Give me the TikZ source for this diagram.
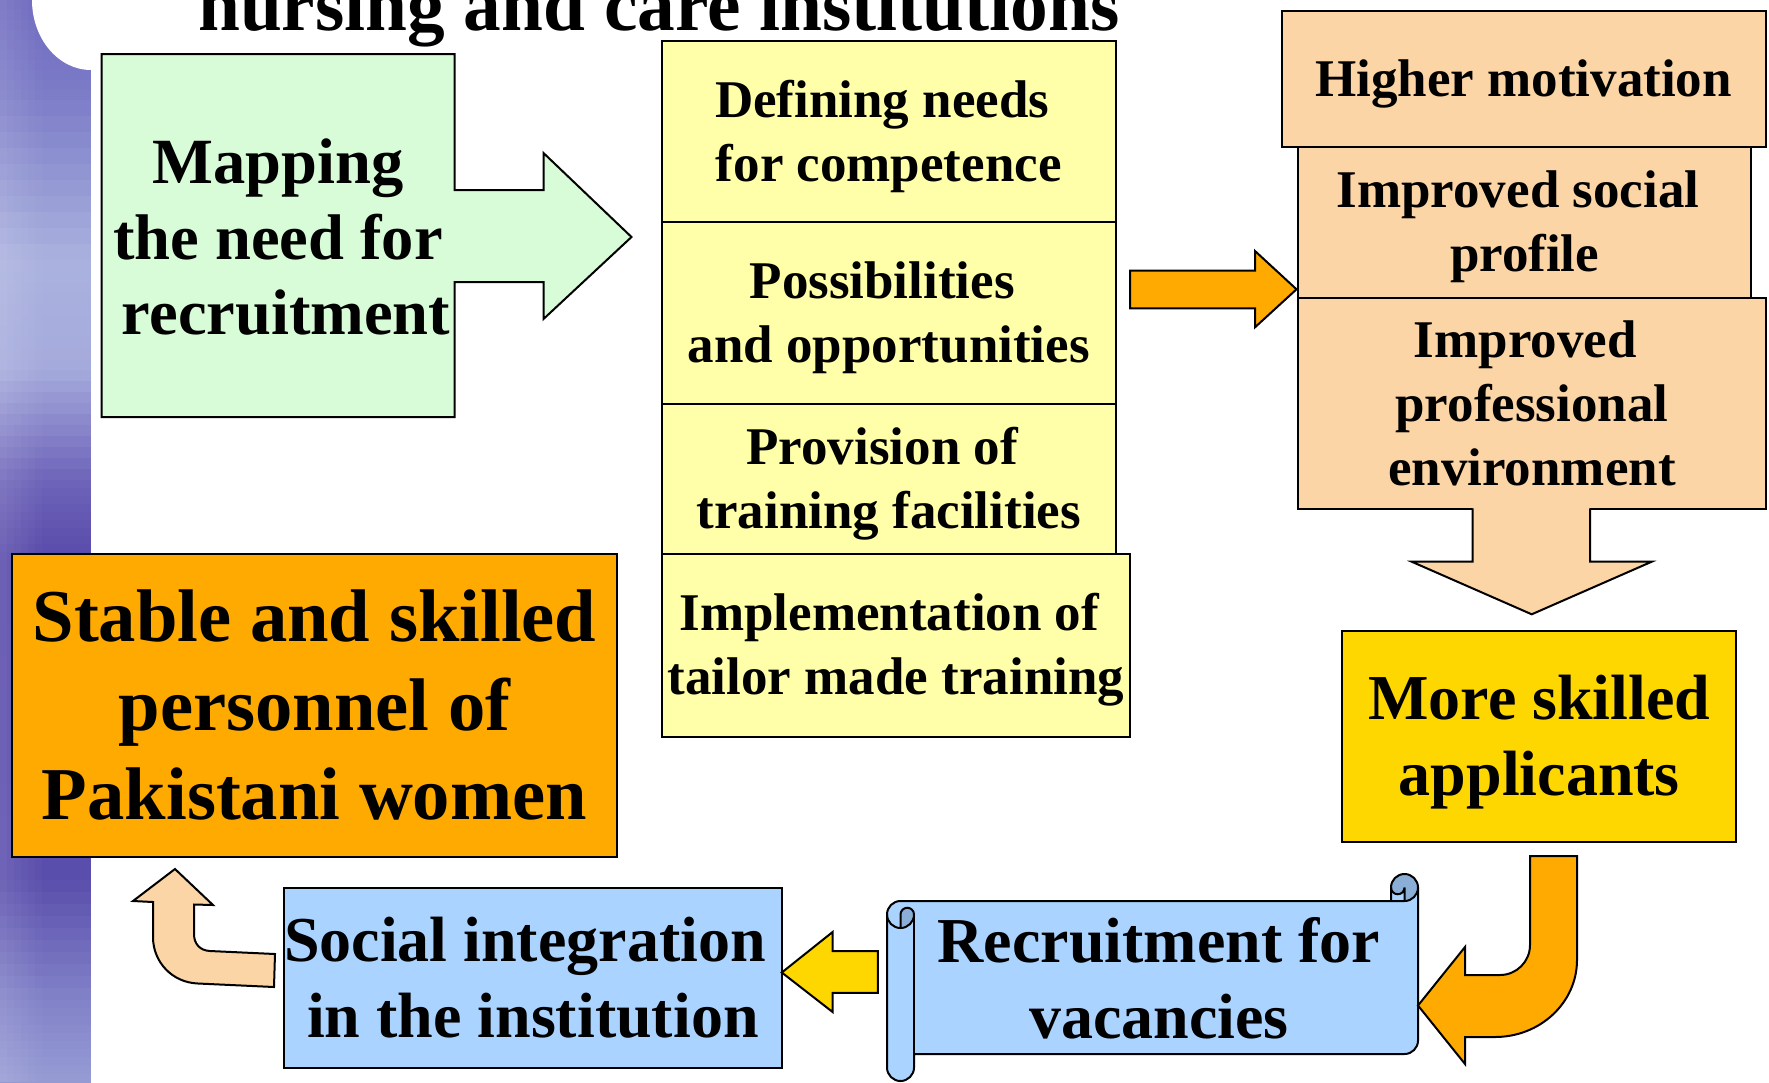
\documentclass[tikz,border=0pt]{standalone}
\usepackage{fontspec}
\setmainfont{Liberation Serif}
\definecolor{mint}{RGB}{216,252,216}
\definecolor{paleyel}{RGB}{255,255,170}
\definecolor{peach}{RGB}{251,213,165}
\definecolor{orng}{RGB}{255,170,0}
\definecolor{gold}{RGB}{255,215,0}
\definecolor{skyb}{RGB}{170,212,255}
\definecolor{skybd}{RGB}{139,174,214}
\definecolor{bA}{RGB}{110,105,190}
\definecolor{bB}{RGB}{125,125,200}
\definecolor{bC}{RGB}{170,178,222}
\definecolor{bD}{RGB}{165,170,220}
\definecolor{bE}{RGB}{110,100,185}
\definecolor{bF}{RGB}{88,74,170}
\definecolor{bG}{RGB}{90,78,172}
\definecolor{bH}{RGB}{130,130,200}
\definecolor{bI}{RGB}{150,155,212}
\newcommand\Tst{\rule{0pt}{0.891em}}
\newcommand\Bst{\rule[-0.216em]{0pt}{0.216em}}
\newcommand\Tsp{\hspace*{0.25em}}
\tikzset{
  box/.style={draw=black, line width=2pt, inner sep=0pt, anchor=north west, align=center},
  fsA/.style={font=\fontsize{53}{64}\selectfont\bfseries},
  fsB/.style={font=\fontsize{64}{76}\selectfont\bfseries},
  fsC/.style={font=\fontsize{74.6}{89}\selectfont\bfseries},
  outl/.style={draw=black, line width=2pt, line join=miter},
}
\begin{document}
\begin{tikzpicture}[x=1pt,y=-1pt]
\useasboundingbox (0,0) rectangle (1769,1082);
\fill[white] (0,0) rectangle (1769,1082);
% decorative side bar
\foreach \ya/\yb/\ca/\cb in {0/100/bA/bB,100/260/bB/bC,260/370/bC/bD,370/480/bD/bE,480/560/bE/bF,560/880/bF/bG,880/1000/bG/bH,1000/1082/bH/bI}{
  \foreach \i in {0,...,9}{
    \pgfmathsetmacro\yy{\ya+(\yb-\ya)*\i/10}
    \pgfmathsetmacro\yz{\ya+(\yb-\ya)*(\i+1)/10+0.6}
    \pgfmathtruncatemacro\pp{95-10*\i}
    \fill[\ca!\pp!\cb] (0,\yy) rectangle (90.7,\yz);
  }
}
\foreach \k in {0,...,5}{
  \pgfmathsetmacro\xa{\k*7}
  \pgfmathsetmacro\op{0.12-0.02*\k}
  \fill[white, fill opacity=\op] (\xa,0) rectangle ({\xa+7},1082);
}
\fill[white] (91,0) -- (32,0) arc[start angle=180, end angle=90, x radius=59, y radius=70] -- (91,70) -- cycle;

% title (cut off at top)
\node[anchor=base west, inner sep=0pt, font=\fontsize{75.3}{89}\selectfont\bfseries] (title) at (198,30) {nursing and care institutions};

% green block arrow
\path[fill=mint, outl] (101.5,54) -- (454.5,54) -- (454.5,190) -- (543.5,190) -- (543.5,153) -- (631.5,237) -- (543.5,319) -- (543.5,282) -- (454.5,282) -- (454.5,417) -- (101.5,417) -- cycle;
\node[font=\fontsize{64.5}{75.5}\selectfont\bfseries, align=center, inner sep=0pt] (map) at (278,237.5) {\Tst Mapping\\the need for\\\Tsp recruitment\Bst};

% yellow column
\node[box, fill=paleyel, fsA, minimum width=453.6, minimum height=181.5] (def) at (661,39.5) {\Tst Defining needs\Tsp\\for competence\Bst};
\node[box, fill=paleyel, fsA, minimum width=453.6, minimum height=181.8] (pos) at (661,221) {\Tst Possibilities\Tsp\\and opportunities\Bst};
\node[box, fill=paleyel, fsA, minimum width=453.6, minimum height=150] (prov) at (661,402.8) {\Tst Provision of\Tsp\\training facilities\Bst};
\node[box, fill=paleyel, fsA, minimum width=468, minimum height=182.8] (impl) at (661,552.8) {\Tst Implementation of\Tsp\\tailor made training\Bst};

% peach column
\node[box, fill=peach, fsA, minimum width=484, minimum height=135.5] (hm) at (1280.5,10) {\Tst Higher motivation\Bst};
\node[box, fill=peach, fsA, minimum width=452.4, minimum height=151.2] (isp) at (1297.4,145.5) {\Tst Improved social\Tsp\\profile\Bst};
\node[box, fill=peach, fsA, minimum width=467.1, minimum height=211.6] (ipe) at (1297.4,296.7) {\Tst Improved\Tsp\\professional\\environment\Bst};
\fill[peach] (1472.7,506) -- (1472.7,561.7) -- (1411.7,561.7) -- (1531.7,614.3) -- (1651.7,561.7) -- (1590,561.7) -- (1590,506) -- cycle;
\draw[outl] (1472.7,508.3) -- (1472.7,561.7) -- (1411.7,561.7) -- (1531.7,614.3) -- (1651.7,561.7) -- (1590,561.7) -- (1590,508.3);

% gold box
\node[box, fill=gold, fsB, minimum width=393.8, minimum height=211] (msa) at (1341.4,629.5) {\Tst More skilled\\applicants\Bst};

% orange result box
\node[box, fill=orng, fsC, minimum width=605, minimum height=302.7] (stable) at (11,553.3) {\Tst Stable and skilled\\personnel of\\Pakistani women\Bst};

% blue box
\node[box, fill=skyb, fsB, minimum width=497.7, minimum height=180.5] (soc) at (283,886.8) {\Tst Social integration\Tsp\\in the institution\Bst};

% scroll
\begin{scope}[shift={(887,874)}]
 \fill[skyb] (0,40.5) arc[start angle=180, delta angle=90, radius=13.5] -- (504,27) -- (504,13.5) arc[start angle=180, delta angle=180, radius=13.5] -- (531,166.5) arc[start angle=0, delta angle=90, radius=13.5] -- (27,180) -- (27,193.5) arc[start angle=0, delta angle=180, radius=13.5] -- cycle;
 \fill[skybd] (13.5,54) arc[start angle=90, delta angle=-90, radius=13.5] arc[start angle=0, delta angle=-180, radius=6.75] -- cycle;
 \fill[skybd] (517.5,27) arc[start angle=90, delta angle=-270, radius=13.5] arc[start angle=180, delta angle=-180, radius=6.75] -- cycle;
 \draw[outl, line join=round] (0,40.5) arc[start angle=180, delta angle=90, radius=13.5] -- (504,27) -- (504,13.5) arc[start angle=180, delta angle=180, radius=13.5] -- (531,166.5) arc[start angle=0, delta angle=90, radius=13.5] -- (27,180) -- (27,193.5) arc[start angle=0, delta angle=180, radius=13.5] -- cycle;
 \draw[outl] (504,27) -- (517.5,27) arc[start angle=90, delta angle=-90, radius=13.5];
 \draw[outl] (517.5,27) -- (517.5,13.5) arc[start angle=0, delta angle=180, radius=6.75];
 \draw[outl] (13.5,54) -- (13.5,40.5) arc[start angle=180, delta angle=180, radius=6.75] arc[start angle=0, delta angle=180, radius=13.5];
 \draw[outl] (27,40.5) -- (27,180);
\end{scope}
\node[fsB, align=center, inner sep=0pt] (recr) at (1159,979) {\Tst Recruitment for\\vacancies\Bst};

% block arrows
\path[fill=orng, outl] (1130,270.7) -- (1255,270.7) -- (1255,251) -- (1296.5,289.3) -- (1255,327.3) -- (1255,308.3) -- (1130,308.3) -- cycle;
\path[fill=orng, outl] (1530,856) -- (1577,856) -- (1577,960) arc[start angle=0, end angle=90, x radius=82, y radius=77] -- (1465,1037) -- (1465,1064) -- (1418,1005.5) -- (1465,947) -- (1465,975) -- (1500,975) arc[start angle=90, end angle=0, radius=30] -- cycle;
\path[fill=gold, outl] (877.8,951) -- (832.6,951) -- (832.6,932) -- (781.8,972.5) -- (832.6,1012) -- (832.6,992.8) -- (877.8,992.8) -- cycle;
\path[fill=peach, outl] (275,954) -- (210,951) .. controls (200,950.5) and (194,944) .. (194,934) -- (194,904.5) -- (213,905) -- (175,869) -- (133,901) -- (153,902) -- (153,937) .. controls (153,962) and (172,982.5) .. (198,983.5) -- (274,987) -- cycle;
\end{tikzpicture}
\end{document}
